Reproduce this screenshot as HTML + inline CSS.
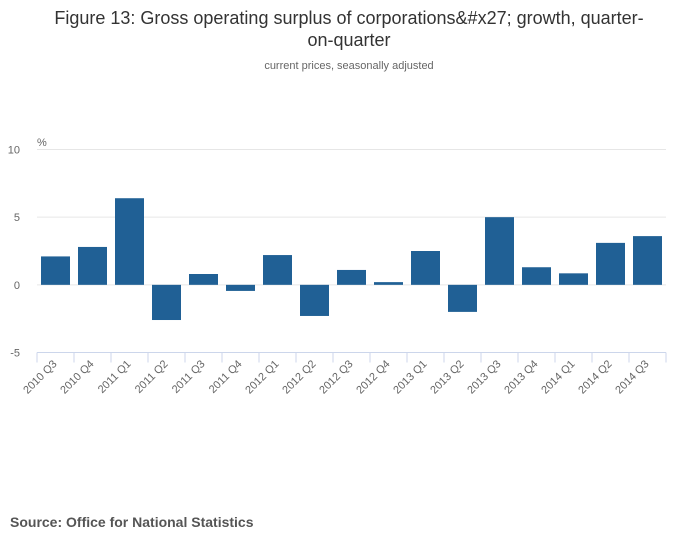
<!DOCTYPE html>
<html><head><meta charset="utf-8"><style>
body{margin:0;background:#fff;font-family:"Liberation Sans",sans-serif;}
svg text{font-family:"Liberation Sans",sans-serif;}
</style></head><body>
<svg width="700" height="549">
<text x="349" y="24" text-anchor="middle" font-size="18" fill="#333">Figure 13: Gross operating surplus of corporations&amp;#x27; growth, quarter-</text>
<text x="349" y="46" text-anchor="middle" font-size="18" fill="#333">on-quarter</text>
<text x="349" y="69" text-anchor="middle" font-size="11" fill="#666">current prices, seasonally adjusted</text>
<text x="37" y="146" font-size="11" fill="#666">%</text>
<g id="grid"></g><g id="bars"></g><g id="xaxis"></g>
<text x="10" y="527" font-size="14" font-weight="bold" fill="#555">Source: Office for National Statistics</text>
</svg>
<script>
const categories=["2010 Q3","2010 Q4","2011 Q1","2011 Q2","2011 Q3","2011 Q4","2012 Q1","2012 Q2","2012 Q3","2012 Q4","2013 Q1","2013 Q2","2013 Q3","2013 Q4","2014 Q1","2014 Q2","2014 Q3"];
const values=[2.1,2.8,6.4,-2.6,0.8,-0.45,2.2,-2.3,1.1,0.2,2.5,-2.0,5.0,1.3,0.85,3.1,3.6];
const yTicks=[10,5,0,-5];
const NS="http://www.w3.org/2000/svg";
const x0=37,x1=666,yMin=-5,yMax=10,yTop=149.5,yBot=352.5;
const band=(x1-x0)/categories.length;
function y(v){return yBot-(v-yMin)/(yMax-yMin)*(yBot-yTop);}
function mk(tag,attrs,parent){const e=document.createElementNS(NS,tag);for(const k in attrs)e.setAttribute(k,attrs[k]);parent.appendChild(e);return e;}
const grid=document.getElementById('grid'),bars=document.getElementById('bars'),xa=document.getElementById('xaxis');
yTicks.forEach(t=>{
  if(t!==yMin){const l=mk('line',{x1:x0,x2:x1,y1:y(t),y2:y(t),stroke:'#e6e6e6','stroke-width':1},grid);
  
  }
  const tx=mk('text',{x:20,y:y(t)+4,'text-anchor':'end','font-size':11,fill:'#666'},grid);
  tx.textContent=t;
  
  
});
values.forEach((v,i)=>{
  const cx=x0+band*(i+0.5),w=29;
  const r=mk('rect',{x:cx-w/2,y:Math.min(y(v),y(0)),width:w,height:Math.abs(y(v)-y(0)),fill:'#206095'},bars);
  
  
});
const ax=mk('line',{x1:x0,x2:x1,y1:yBot,y2:yBot,stroke:'#ccd6eb','stroke-width':1},xa);


for(let i=0;i<=categories.length;i++){
  const xx=x0+band*i;
  const t=mk('line',{x1:xx,x2:xx,y1:yBot,y2:yBot+10,stroke:'#ccd6eb','stroke-width':1},xa);
  
  
}
categories.forEach((c,i)=>{
  const cx=x0+band*(i+0.5)+2;
  const t=mk('text',{x:cx,y:yBot+12,'text-anchor':'end','font-size':11,fill:'#666',transform:`rotate(-45 ${cx} ${yBot+12})`},xa);
  t.textContent=c;
  
  
});
</script>
</body></html>
